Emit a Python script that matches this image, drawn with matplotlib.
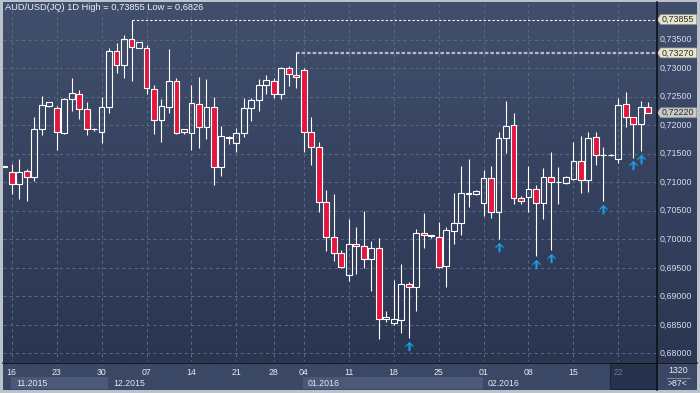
import matplotlib
matplotlib.use("Agg")
import matplotlib.pyplot as plt
import numpy as np
from matplotlib.patches import Rectangle, Polygon
from matplotlib.path import Path
from matplotlib.lines import Line2D
from matplotlib.colors import LinearSegmentedColormap

plt.rcParams["font.family"] = ["Liberation Sans", "DejaVu Sans"]

# daily candles, 16.11.2015 .. 23.02.2016 (first one cut by the left edge)
opens = [0.7127, 0.71175, 0.70965, 0.71198, 0.71088, 0.7193, 0.72344, 0.72298, 0.7187, 0.72456,
         0.72544, 0.72281, 0.7193, 0.71888, 0.72316, 0.73304, 0.73053, 0.73509, 0.73361, 0.7335,
         0.72632, 0.72088, 0.72326, 0.72777, 0.71877, 0.7186, 0.72368, 0.71975, 0.72316, 0.71274,
         0.71777, 0.71695, 0.7186, 0.72298, 0.72439, 0.72702, 0.72772, 0.72544, 0.73, 0.72888,
         0.72965, 0.71877, 0.71625, 0.7066, 0.70046, 0.69754, 0.69368, 0.69912, 0.69877, 0.6966,
         0.69842, 0.68596, 0.68537, 0.68584, 0.6921, 0.69158, 0.70105, 0.7006, 0.70035, 0.69537,
         0.70151, 0.70281, 0.70795, 0.70799, 0.70642, 0.7107, 0.70484, 0.71772, 0.72, 0.70719,
         0.70747, 0.70877, 0.70642, 0.71088, 0.71, 0.70993, 0.71063, 0.71368, 0.71035, 0.71789,
         0.71474, 0.71474, 0.71404, 0.72368, 0.7215, 0.72018, 0.72316]
highs = [0.7128, 0.71316, 0.71409, 0.71228, 0.72146, 0.72514, 0.72404, 0.72344, 0.72479, 0.7283,
         0.72619, 0.72404, 0.71958, 0.72491, 0.73356, 0.73439, 0.73584, 0.73855, 0.73456, 0.73409,
         0.72707, 0.72461, 0.73339, 0.72825, 0.7193, 0.72707, 0.72847, 0.72812, 0.72496, 0.71988,
         0.71818, 0.71947, 0.72474, 0.72484, 0.72812, 0.72882, 0.72825, 0.73028, 0.7304, 0.7327,
         0.73, 0.7214, 0.71702, 0.70865, 0.70795, 0.69812, 0.70356, 0.70211, 0.70496, 0.6997,
         0.70018, 0.68742, 0.69286, 0.69561, 0.69246, 0.70181, 0.70467, 0.70075, 0.70309, 0.70211,
         0.70807, 0.71286, 0.71403, 0.70865, 0.71216, 0.71286, 0.71888, 0.72426, 0.72221, 0.7076,
         0.71286, 0.70953, 0.71246, 0.71537, 0.71263, 0.71111, 0.71707, 0.71812, 0.71888, 0.71888,
         0.71614, 0.7149, 0.72474, 0.72579, 0.7215, 0.72432, 0.72414]
lows = [0.7126, 0.70795, 0.70712, 0.70677, 0.71028, 0.7183, 0.72326, 0.71567, 0.71842, 0.72251,
        0.72105, 0.7183, 0.719, 0.71695, 0.72221, 0.72923, 0.72835, 0.72782, 0.73361, 0.72549,
        0.71853, 0.71712, 0.72221, 0.71842, 0.71842, 0.71567, 0.71607, 0.7176, 0.70953, 0.71111,
        0.71667, 0.71537, 0.718, 0.72075, 0.72251, 0.72554, 0.72474, 0.72456, 0.72695, 0.72659,
        0.71537, 0.71304, 0.70484, 0.698, 0.69625, 0.69491, 0.69274, 0.69391, 0.69502, 0.69098,
        0.6826, 0.68554, 0.68497, 0.68361, 0.68263, 0.68742, 0.69853, 0.70018, 0.69491, 0.69168,
        0.69918, 0.70075, 0.70572, 0.7078, 0.70409, 0.70379, 0.70005, 0.71519, 0.70619, 0.70619,
        0.70484, 0.69707, 0.70351, 0.69812, 0.70619, 0.70965, 0.7104, 0.70807, 0.70835, 0.71304,
        0.70677, 0.7146, 0.71344, 0.71975, 0.71432, 0.71549, 0.7222]
closes = [0.7128, 0.70965, 0.71175, 0.71088, 0.7193, 0.72356, 0.72404, 0.71888, 0.72456, 0.72561,
          0.72281, 0.7193, 0.7193, 0.72316, 0.73304, 0.73053, 0.73509, 0.73379, 0.73456, 0.72649,
          0.72088, 0.72339, 0.72777, 0.7187, 0.7193, 0.72386, 0.71975, 0.72316, 0.71274, 0.71812,
          0.71777, 0.7186, 0.72298, 0.72439, 0.72702, 0.72789, 0.72544, 0.73, 0.72895, 0.72842,
          0.71877, 0.71614, 0.7066, 0.70046, 0.69754, 0.6952, 0.69912, 0.69877, 0.6966, 0.69842,
          0.68596, 0.68637, 0.68596, 0.6921, 0.69158, 0.70105, 0.7007, 0.7006, 0.6952, 0.70163,
          0.70281, 0.70807, 0.70805, 0.70847, 0.7107, 0.70484, 0.71772, 0.71988, 0.70719, 0.70667,
          0.70877, 0.70642, 0.71088, 0.71, 0.71, 0.71088, 0.71368, 0.71035, 0.71772, 0.71474,
          0.71474, 0.71474, 0.72351, 0.7214, 0.72018, 0.72316, 0.7222]

signal_idx = [54, 66, 71, 73, 80, 84, 85]

day_idx = [1, 7, 13, 19, 25, 31, 36, 40, 46, 52, 58, 64, 70, 76, 82]
day_labels = ["16", "23", "30", "07", "14", "21", "28", "04", "11", "18", "25", "01", "08", "15", "22"]
month_idx = [1, 14, 40, 64]
month_labels = ["11.2015", "12.2015", "01.2016", "02.2016"]

price_ticks = [0.680, 0.685, 0.690, 0.695, 0.700, 0.705, 0.710, 0.715, 0.720, 0.725, 0.730, 0.735]
high_val, high_idx = 0.73855, 17
prev_val, prev_idx = 0.7327, 39
last_val = 0.7222
title = "AUD/USD(JQ) 1D High = 0,73855 Low = 0,6826"

W, H = 700, 393
RED = "#e2173e"
TXT = "#e4e9f2"


def box(x0, y0, x1, y1):
    return [x0 / W, 1 - y1 / H, (x1 - x0) / W, (y1 - y0) / H]


def fmt(v):
    return f"{v:.5f}".replace(".", ",")


fig = plt.figure(figsize=(7, 3.93), dpi=100, facecolor="#bcc2cc")

# gradient background of chart + price scale
bg = fig.add_axes(box(3, 2, 697, 362.5))
bg.axis("off")
cmap = LinearSegmentedColormap.from_list("bg", ["#414f6d", "#2a3551"])
bg.imshow(np.linspace(0, 1, 256).reshape(-1, 1), aspect="auto", cmap=cmap, extent=(0, 1, 0, 1))

ax = fig.add_axes(box(3, 2, 656.5, 362.5))
ax.set_facecolor("none")
ax.set_xlim(-0.16, 87.09)
ax.set_ylim(0.67839, 0.74163)
for s in ax.spines.values():
    s.set_visible(False)
ax.set_xticks(day_idx)
ax.set_yticks(price_ticks)
ax.tick_params(left=False, bottom=False, labelleft=False, labelbottom=False)
ax.grid(True, color="#5a6884", lw=0.75, ls=(0, (3, 3)))
ax.set_axisbelow(True)

o = np.array(opens)
h = np.array(highs)
l = np.array(lows)
c = np.array(closes)
x = np.arange(len(o))
top = np.maximum(o, c)
bot = np.minimum(o, c)

ax.vlines(x, top, h, color="white", lw=0.8, zorder=3)
ax.vlines(x, l, bot, color="white", lw=0.8, zorder=3)
for i in x:
    face = RED if c[i] < o[i] else "none"
    ax.add_patch(Rectangle((i - 0.39, bot[i]), 0.78, max(top[i] - bot[i], 0.00012),
                           facecolor=face, edgecolor="white", lw=0.8, zorder=4))

xmax = ax.get_xlim()[1]
ax.hlines(high_val, high_idx, xmax, color="white", lw=0.8, ls=(0, (2, 2)), zorder=2)
ax.hlines(prev_val, prev_idx, xmax, color="#b4b9c4", lw=1.6, ls=(0, (1.6, 0.9)), zorder=2)

# blue up arrows under signal candles
arrow = Path([(0, 0.5), (0.43, 0.06), (0.43, -0.1), (0.11, 0.2), (0.11, -0.5),
              (-0.11, -0.5), (-0.11, 0.2), (-0.43, -0.1), (-0.43, 0.06), (0, 0.5)],
             [Path.MOVETO] + [Path.LINETO] * 8 + [Path.CLOSEPOLY])
y0, y1 = ax.get_ylim()
per_px = (y1 - y0) / 360.5
for i in signal_idx:
    ax.plot(i, l[i] - 7.8 * per_px, marker=arrow, ms=6.8, color="#17a0e6", mec="none",
            ls="none", zorder=5)

# price scale
pax = fig.add_axes(box(656.5, 2, 697, 362.5))
pax.axis("off")
pax.set_xlim(0, 1)
pax.set_ylim(y0, y1)
for v in price_ticks:
    pax.text(0.07, v, fmt(v), ha="left", va="center", fontsize=6.4, color="#d8deea")
hh = 5 * per_px
for v, col in [(high_val, "#e8e5cf"), (prev_val, "#e8e5cf"), (last_val, "#c8c9c9")]:
    pax.add_patch(Polygon([(0.02, v), (0.1, v + hh), (0.995, v + hh), (0.995, v - hh), (0.1, v - hh)],
                          closed=True, fc=col, ec="#8c8c84", lw=0.5))
    pax.text(0.13, v, fmt(v), ha="left", va="center", fontsize=6.4, color="#2b2b2b")

# date scale
fig.add_artist(Rectangle((3 / W, 1 - 390 / H), 694 / W, 27.5 / H, transform=fig.transFigure,
                         fc="#3b4865", ec="none", zorder=0))
dax = fig.add_axes(box(3, 362.5, 656.5, 390))
dax.axis("off")
dax.set_xlim(ax.get_xlim())
dax.set_ylim(0, 1)
for k, (lbl, start) in enumerate(zip(month_labels, month_idx)):
    end = month_idx[k + 1] - 0.1 if k + 1 < len(month_idx) else xmax
    if k % 2 == 0:
        dax.add_patch(Rectangle((start - 0.1, 0.04), end - start + 0.1, 0.43, fc="#4b5877", ec="none"))
    dax.text(start + 0.57, 0.25, lbl, ha="left", va="center", fontsize=6.3, color=TXT)
dax.add_patch(Rectangle((80.9, 0.03), xmax - 80.9, 0.94, fc="#27314c", ec="#1b2237", lw=0.8))
for i, lbl in zip(day_idx, day_labels):
    col = "#6b758e" if i >= 81 else TXT
    dax.text(i, 0.64, lbl, ha="center", va="center", fontsize=6.3, color=col)

# separators and corner
fig.add_artist(Line2D([656.5 / W] * 2, [1 - 2 / H, 1 - 390 / H], color="#0a0d15", lw=1.1))
fig.add_artist(Line2D([3 / W, 697 / W], [1 - 362.5 / H] * 2, color="#0a0d15", lw=1.1))
fig.add_artist(Line2D([667 / W, 690 / W], [1 - 377.5 / H] * 2, color="#8d96ab", lw=0.6))
fig.text(678 / W, 1 - 370.5 / H, "1320", ha="center", va="center", fontsize=6.3, color=TXT)
fig.text(678 / W, 1 - 383 / H, ">87<", ha="center", va="center", fontsize=6.3, color=TXT)

fig.text(5 / W, 1 - 8 / H, title, ha="left", va="center", fontsize=6.7, color="#eef1f6")

fig.savefig("out.png", dpi=100, facecolor=fig.get_facecolor())
